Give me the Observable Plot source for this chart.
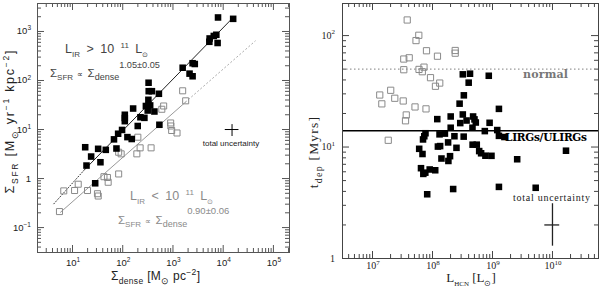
<!DOCTYPE html>
<html><head><meta charset="utf-8">
<script src="https://cdn.jsdelivr.net/npm/d3@7"></script>
<script src="https://cdn.jsdelivr.net/npm/@observablehq/plot@0.6"></script>
<style>
body{margin:0;background:#fff;}
#wrap{display:flex;width:600px;height:287px;background:#fff;}
svg{display:block}
text{white-space:pre}
</style></head><body><div id="wrap"></div>
<script>
// ---------- LEFT PANEL DATA ----------
const denseFilledX = [7890,15800,5370,6500,7300,5300,7740,1560,2460,2720,2140,2460,327,329,381,525,324,289,352,314,427,161,110,110,110,225,270,199,537,97,81,67,124,151,75,17.9,32.4,46,23.5,19,36,28.3];
const sfrFilledY   = [1930,1810,720,810,857,616,582,182,225,217,138,122,90,60.5,60.5,53.6,40.4,30.2,31,24.4,23.3,26.8,20,17.2,14.8,17.8,17.3,11.8,12.5,9.8,8.2,6.3,7.0,6.4,4.1,4.35,4.04,3.85,2.81,1.84,2.15,0.80];
const denseOpenX = [1560,1790,653,600,900,908,942,1205,200,222,367,83,93,191,42.3,49.6,51.3,83,13,6.7,11,19.9,31.4,32.5,5.5];
const sfrOpenY   = [61.6,38.5,30.2,25.9,13.6,11.8,9.55,8.5,6.97,4.23,4.23,3.44,3.19,3.19,1.09,1.05,0.84,1.24,0.766,0.56,0.57,0.57,0.49,0.44,0.212];
// fit lines (end points)
const fitHighSolidX = [16.8, 14500], fitHighSolidY = [1.46, 1766];
const fitHighDotX = [4.25, 16.8],    fitHighDotY = [0.305, 1.46];
const fitLowSolidX = [5.77, 1786],   fitLowSolidY = [0.205, 36.4];
const fitLowDotX = [1786, 43500],    fitLowDotY = [36.4, 640];
// uncertainty cross
const crossL = {x: 15000, y: 10, x1: 11000, x2: 20600, y1: 7.2, y2: 12.6};
const leftXTicks = [10, 100, 1000, 1e4, 1e5], leftXExp = ["1","2","3","4","5"];
const leftYTicks = [0.1, 1, 10, 100, 1000], leftYBase = ["10","1","10","10","10"], leftYExp = ["\u22121","","1","2","3"];

// ---------- RIGHT PANEL DATA ----------
const hcnOpenX = [3.79e7,5.91e7,5.31e7,7.94e7,1.21e8,2.39e8,2.39e8,3.32e7,4.09e7,3.32e7,5.96e7,6.76e7,7.21e7,9.26e7,1.32e8,1.12e8,1.32e7,2.01e7,2.35e7,3.25e7,1.43e7,5.11e7,7.79e7,3.65e7,3.55e7,1.83e7];
const tdepOpenY = [138,100.6,90.2,73.1,65.3,73.5,69.5,61.6,63.2,49.4,49.7,47.4,52.1,41.9,37.5,35.1,29.3,32.3,27.4,25.9,24.4,22.9,22.0,19.4,17.2,11.5];
const hcnFilledX = [3.20e8,4.22e8,8.67e8,4.01e8,3.33e8,2.83e8,1.28e9,1.20e8,2.01e8,3.20e8,4.75e8,5.01e8,5.27e8,3.70e8,2.90e8,8.95e8,2.01e8,4.64e8,7.45e8,1.20e9,7.64e7,7.30e7,6.95e7,1.31e8,1.61e8,2.32e8,3.31e8,1.28e9,1.58e9,1.82e8,1.23e8,1.34e8,2.51e8,4.66e8,5.47e8,6.0e7,6.81e7,6.0e8,6.46e8,7.62e8,9.62e8,1.68e10,1.41e8,1.96e8,1.84e8,6.43e7,7.03e7,7.59e7,8.98e7,1.11e8,8.16e7,2.21e8,1.28e9,2.58e9,5.25e9];
const tdepFilledY = [44.9,45.5,43.6,37.8,29.1,24.5,22.0,17.8,18.8,19.6,18.8,17.7,16.6,17.3,16.4,16.5,14.9,14.9,13.9,14.2,13.3,12.5,11.7,13.0,13.2,12.5,12.4,12.6,12.3,11.0,10.1,10.2,9.84,10.5,10.5,9.64,8.66,9.2,8.79,8.36,8.34,9.27,7.89,8.28,7.50,6.46,5.74,5.89,6.29,6.19,3.77,4.2,4.39,7.77,4.31];
const tdepNormal = [50], tdepLirg = [14];
const crossR = {x: 1e10, y: 2.0, x1: 7.45e9, x2: 1.32e10, y1: 1.29, y2: 3.1};
const rightXTicks = [1e7, 1e8, 1e9, 1e10], rightXExp = ["7","8","9","10"];
const rightYTicks = [1, 10, 100], rightYBase = ["1","10","10"], rightYExp = ["","1","2"];

// ---------- helpers ----------
const W = 300, H = 287, MAJ = 7, MIN = 4;
const SANS = "'Liberation Sans', Arial, sans-serif";
const SERIF = "'Liberation Serif', 'Times New Roman', serif";

function minors(lo, hi) {
  const out = [];
  for (let e = Math.floor(Math.log10(lo)); e <= Math.ceil(Math.log10(hi)); e++)
    for (let k = 2; k <= 9; k++) { const v = k * 10 ** e; if (v > lo && v < hi) out.push(v); }
  return out;
}
function tickMarks(xMaj, xMin, yMaj, yMin, fw, fh, color) {
  const s = {stroke: color, strokeWidth: 1};
  return [
    Plot.tickX(xMaj, {x: d => d, insetTop: fh - MAJ, ...s}),
    Plot.tickX(xMaj, {x: d => d, insetBottom: fh - MAJ, ...s}),
    Plot.tickX(xMin, {x: d => d, insetTop: fh - MIN, ...s}),
    Plot.tickX(xMin, {x: d => d, insetBottom: fh - MIN, ...s}),
    Plot.tickY(yMaj, {y: d => d, insetRight: fw - MAJ, ...s}),
    Plot.tickY(yMaj, {y: d => d, insetLeft: fw - MAJ, ...s}),
    Plot.tickY(yMin, {y: d => d, insetRight: fw - MIN, ...s}),
    Plot.tickY(yMin, {y: d => d, insetLeft: fw - MIN, ...s})
  ];
}
// one text element with sub/superscripts flowing after each other
// part: "str" or [str, mode, size]; mode 0 normal, "b" subscript, "p" superscript, number = absolute shift
function rich(svg, x, y, parts, o = {}) {
  const size = o.size || 11, sub = o.sub || size * 0.68;
  const t = d3.select(svg).append("text")
    .attr("transform", `translate(${x},${y})` + (o.rotate ? ` rotate(${o.rotate})` : ""))
    .attr("text-anchor", o.anchor || "start")
    .attr("font-family", o.family || SANS)
    .attr("font-size", size)
    .attr("font-weight", o.weight || "normal")
    .attr("word-spacing", o.ws || null)
    .attr("letter-spacing", o.ls || null)
    .attr("fill", o.fill || "#000");
  if (o.len) t.attr("textLength", o.len).attr("lengthAdjust", "spacing");
  let cur = 0;
  for (const p of parts) {
    const [s, m, sz] = Array.isArray(p) ? p : [p, 0];
    const shift = m === 0 ? 0 : m === "b" ? size * 0.3 : m === "p" ? -size * 0.42 : m;
    t.append("tspan").attr("dy", shift - cur).attr("font-size", sz || (m === 0 ? size : sub)).text(s);
    cur = shift;
  }
  return t;
}

// ---------- LEFT PANEL ----------
const Lm = {l: 37, r: 11, t: 3, b: 35};
const Lfw = W - Lm.l - Lm.r, Lfh = H - Lm.t - Lm.b;
const lxDom = [2.01, 2.09e5], lyDom = [0.031, 3720];
const gray = "#8a8a8a";
const left = Plot.plot({
  width: W, height: H,
  marginLeft: Lm.l, marginRight: Lm.r, marginTop: Lm.t, marginBottom: Lm.b,
  x: {type: "log", domain: lxDom, axis: null},
  y: {type: "log", domain: lyDom, axis: null},
  style: {background: "#fff", fontFamily: SANS, overflow: "visible"},
  marks: [
    ...tickMarks(leftXTicks, minors(...lxDom), leftYTicks, minors(...lyDom), Lfw, Lfh, "#555"),
    Plot.line({length: 2}, {x: fitHighDotX, y: fitHighDotY, stroke: "#333", strokeWidth: 1, strokeDasharray: "1,2"}),
    Plot.line({length: 2}, {x: fitHighSolidX, y: fitHighSolidY, stroke: "#222", strokeWidth: 1}),
    Plot.line({length: 2}, {x: fitLowSolidX, y: fitLowSolidY, stroke: "#999", strokeWidth: 1}),
    Plot.line({length: 2}, {x: fitLowDotX, y: fitLowDotY, stroke: "#aaa", strokeWidth: 1, strokeDasharray: "1.2,2.8"}),
    Plot.dot({length: denseOpenX.length}, {x: denseOpenX, y: sfrOpenY, symbol: "square", r: 3.4, fill: "none", stroke: gray, strokeWidth: 1}),
    Plot.dot({length: denseFilledX.length}, {x: denseFilledX, y: sfrFilledY, symbol: "square", r: 3.7, fill: "#000", stroke: "none"}),
    Plot.ruleY([crossL.y], {x1: crossL.x1, x2: crossL.x2, stroke: "#000", strokeWidth: 1}),
    Plot.ruleX([crossL.x], {y1: crossL.y1, y2: crossL.y2, stroke: "#000", strokeWidth: 1}),
    Plot.frame({stroke: "#555", strokeWidth: 1})
  ]
});

// ---------- RIGHT PANEL ----------
const Rm = {l: 42, r: 2, t: 3, b: 29};
const Rfw = W - Rm.l - Rm.r, Rfh = H - Rm.t - Rm.b;
const rxDom = [3.16e6, 5.85e10], ryDom = [1, 194];
const right = Plot.plot({
  width: W, height: H,
  marginLeft: Rm.l, marginRight: Rm.r, marginTop: Rm.t, marginBottom: Rm.b,
  x: {type: "log", domain: rxDom, axis: null},
  y: {type: "log", domain: ryDom, axis: null},
  style: {background: "#fff", fontFamily: SERIF, overflow: "visible"},
  marks: [
    ...tickMarks(rightXTicks, minors(...rxDom), rightYTicks, minors(...ryDom), Rfw, Rfh, "#444"),
    Plot.ruleY(tdepNormal, {stroke: "#999", strokeWidth: 1.2, strokeDasharray: "1.5,2.5"}),
    Plot.ruleY(tdepLirg, {stroke: "#000", strokeWidth: 1.6}),
    Plot.dot({length: hcnOpenX.length}, {x: hcnOpenX, y: tdepOpenY, symbol: "square", r: 3.5, fill: "none", stroke: gray, strokeWidth: 1}),
    Plot.dot({length: hcnFilledX.length}, {x: hcnFilledX, y: tdepFilledY, symbol: "square", r: 3.7, fill: "#000", stroke: "none"}),
    Plot.ruleY([crossR.y], {x1: crossR.x1, x2: crossR.x2, stroke: "#222", strokeWidth: 1.3}),
    Plot.ruleX([crossR.x], {y1: crossR.y1, y2: crossR.y2, stroke: "#222", strokeWidth: 1.3}),
    Plot.frame({stroke: "#444", strokeWidth: 1})
  ]
});

const wrap = document.getElementById("wrap");
wrap.append(left, right);

// ---------- LEFT TEXT ----------
const lx = left.scale("x"), ly = left.scale("y");
leftXTicks.forEach((v, i) => rich(left, lx.apply(v) + 1, 266, ["10", [leftXExp[i], "p"]], {anchor: "middle", size: 9.5, sub: 6.5, fill: "#222"}));
leftYTicks.forEach((v, i) => rich(left, 31, ly.apply(v) + 3.5, leftYExp[i] ? [leftYBase[i], [leftYExp[i], "p"]] : [leftYBase[i]], {anchor: "end", size: 9.5, sub: 6.5, fill: "#222"}));
rich(left, 155.5, 280, ["\u03A3", ["dense", "b"], " [M", ["\u2299", "b"], " pc", ["\u22122", "p"], "]"], {anchor: "middle", size: 12, sub: 8.5, len: 89, fill: "#222"});
rich(left, 14, 122, ["\u03A3", ["SFR", "b"], " [M", ["\u2299", "b"], " yr", ["\u22121", "p"], " kpc", ["\u22122", "p"], "]"], {anchor: "middle", rotate: -90, size: 12.5, sub: 8.5, len: 143, fill: "#222"});
// upper annotation (L_IR > 10^11 L_sun)
rich(left, 65, 53, ["L", ["IR", "b"], " > 10 ", ["11", "p"], " L", ["\u2299", "b", 7]], {size: 12.5, sub: 8, ws: 3, fill: "#444"});
rich(left, 50, 77, ["\u03A3", ["SFR", "b", 8], " ", ["\u221D", 0, 8], " \u03A3", ["dense", "b", 9], ["1.05\u00B10.05", -9, 9.2]], {size: 11.5, ws: 1, fill: "#444"});
// lower annotation (L_IR < 10^11 L_sun)
rich(left, 130, 200, ["L", ["IR", "b"], " < 10 ", ["11", "p"], " L", ["\u2299", "b", 7]], {size: 12.5, sub: 8, ws: 3, fill: gray});
rich(left, 118, 224, ["\u03A3", ["SFR", "b", 8], " ", ["\u221D", 0, 8], " \u03A3", ["dense", "b", 9], ["0.90\u00B10.06", -10, 9.5]], {size: 11.5, ws: 1, fill: gray});
rich(left, 231, 146, ["total uncertainty"], {anchor: "middle", size: 8, fill: "#222"});

// ---------- RIGHT TEXT ----------
const rx = right.scale("x"), ry = right.scale("y");
rightXTicks.forEach((v, i) => rich(right, rx.apply(v) + 1, 269, ["10", [rightXExp[i], "p"]], {anchor: "middle", size: 10, sub: 7, family: SERIF, fill: "#222"}));
rightYTicks.forEach((v, i) => rich(right, 35, ry.apply(v) + 3.5, rightYExp[i] ? [rightYBase[i], [rightYExp[i], "p"]] : [rightYBase[i]], {anchor: "end", size: 10, sub: 7, family: SERIF, fill: "#222"}));
rich(right, 171, 282, ["L", ["HCN", "b", 7], " [L", ["\u2299", "b", 8], "]"], {anchor: "middle", size: 13, family: SERIF, fill: "#222"});
rich(right, 18, 152, ["t", ["dep", "b", 10], " [Myrs]"], {anchor: "middle", rotate: -90, size: 13.5, ls: 1.2, family: SERIF, fill: "#222"});
rich(right, 223, 78, ["normal"], {size: 11, family: "'DejaVu Serif', serif", weight: "bold", fill: "#777", len: 45});
rich(right, 205, 141, ["LIRGs/ULIRGs"], {size: 10.5, family: "'DejaVu Serif', serif", weight: "bold", fill: "#000", len: 82});
rich(right, 213, 201, ["total uncertainty"], {size: 10, family: SERIF, fill: "#222", len: 77});
</script></body></html>
